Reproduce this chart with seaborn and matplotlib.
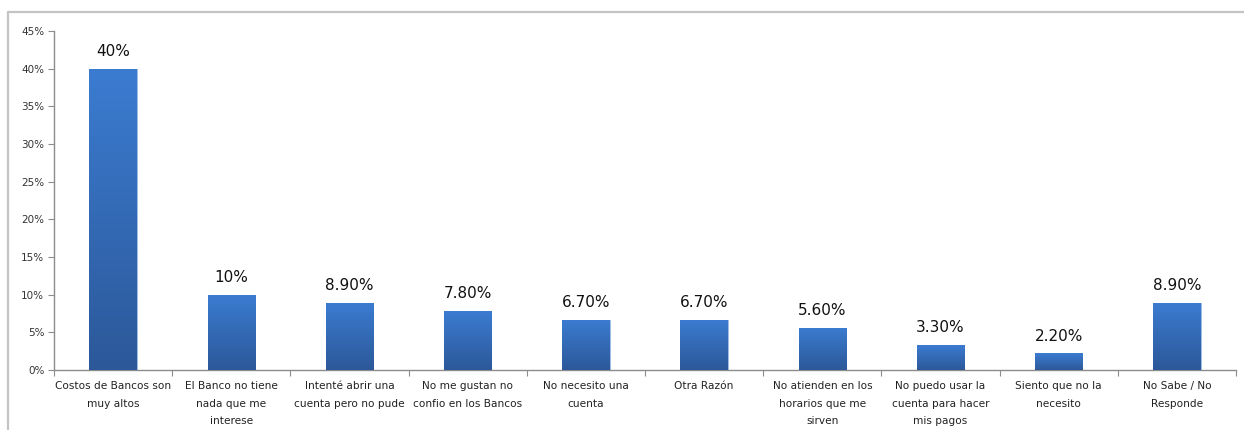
import numpy as np
import pandas as pd
import matplotlib
matplotlib.use("Agg")
import matplotlib.pyplot as plt
import seaborn as sns
from matplotlib.colors import LinearSegmentedColormap
from matplotlib.lines import Line2D

categories = [
    "Costos de Bancos son\nmuy altos",
    "El Banco no tiene\nnada que me\ninterese",
    "Intenté abrir una\ncuenta pero no pude",
    "No me gustan no\nconfio en los Bancos",
    "No necesito una\ncuenta",
    "Otra Razón",
    "No atienden en los\nhorarios que me\nsirven",
    "No puedo usar la\ncuenta para hacer\nmis pagos",
    "Siento que no la\nnecesito",
    "No Sabe / No\nResponde",
]
values = [40, 10, 8.9, 7.8, 6.7, 6.7, 5.6, 3.3, 2.2, 8.9]
value_labels = ["40%", "10%", "8.90%", "7.80%", "6.70%", "6.70%", "5.60%", "3.30%", "2.20%", "8.90%"]
yticks = [0, 5, 10, 15, 20, 25, 30, 35, 40, 45]
ytick_labels = ["0%", "5%", "10%", "15%", "20%", "25%", "30%", "35%", "40%", "45%"]

df = pd.DataFrame({"cat": categories, "val": values})

sns.set_theme(style="white")
plt.rcParams["font.family"] = ["DejaVu Sans"]

fig = plt.figure(figsize=(12.44, 4.30), dpi=100)
ax = fig.add_axes([0.0434, 0.1395, 0.9502, 0.7885])

sns.barplot(data=df, x="cat", y="val", color="#3672c0", width=0.4, ax=ax,
            saturation=1, zorder=2)

cmap = LinearSegmentedColormap.from_list("g", ["#2c5899", "#3b7cd1"])
grad = np.linspace(0, 1, 256).reshape(-1, 1)
for p in ax.patches:
    x0, y0 = p.get_x(), p.get_y()
    w, h = p.get_width(), p.get_height()
    im = ax.imshow(grad, cmap=cmap, origin="lower", aspect="auto",
                   extent=[x0, x0 + w, y0, y0 + h], zorder=3)
    im.set_clip_path(p)
    p.set_edgecolor("#9fbfe6")
    p.set_linewidth(0.6)

for p, lab in zip(ax.patches, value_labels):
    ax.text(p.get_x() + p.get_width() / 2, p.get_height() + 1.3, lab,
            ha="center", va="bottom", fontsize=11, color="#111111", zorder=4)

ax.set_xlim(-0.5, len(categories) - 0.5)
ax.set_ylim(0, 45)
ax.set_yticks(yticks)
ax.set_yticklabels(ytick_labels, fontsize=7.5, color="#333333")
ax.set_xticks(range(len(categories)))
ax.set_xticklabels(categories, fontsize=7.6, color="#222222", linespacing=1.95)
ax.set_xlabel("")
ax.set_ylabel("")

for s in ["top", "right"]:
    ax.spines[s].set_visible(False)
for s in ["left", "bottom"]:
    ax.spines[s].set_color("#8c8c8c")
    ax.spines[s].set_linewidth(1.0)

ax.tick_params(axis="y", which="major", left=True, length=4, width=0.8,
               color="#8c8c8c", pad=3)
ax.tick_params(axis="x", which="major", bottom=False, pad=2)
ax.set_xticks(np.arange(-0.5, len(categories), 1.0), minor=True)
ax.tick_params(axis="x", which="minor", bottom=True, length=4, width=0.8,
               color="#8c8c8c")

# outer frame (top and left edges)
fig.add_artist(Line2D([8 / 1244, 1.0], [1 - 12 / 430, 1 - 12 / 430],
                      transform=fig.transFigure, color="#c4c4c4", lw=1.6))
fig.add_artist(Line2D([8 / 1244, 8 / 1244], [0, 1 - 12 / 430],
                      transform=fig.transFigure, color="#c4c4c4", lw=1.6))

fig.savefig("out.png", dpi=100)
